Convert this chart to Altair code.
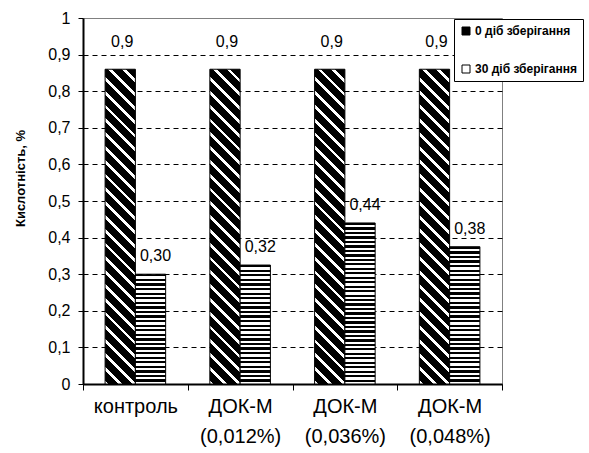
import altair as alt
import pandas as pd

categories = ["контроль", "ДОК-М\n(0,012%)", "ДОК-М\n(0,036%)", "ДОК-М\n(0,048%)"]
series_names = ["0 діб зберігання", "30 діб зберігання"]
values_1 = [0.86, 0.86, 0.86, 0.86]
values_2 = [0.30, 0.325, 0.44, 0.375]
labels_1 = ["0,9", "0,9", "0,9", "0,9"]
labels_2 = ["0,30", "0,32", "0,44", "0,38"]
y_ticks = [0, 0.1, 0.2, 0.3, 0.4, 0.5, 0.6, 0.7, 0.8, 0.9, 1.0]

rows = []
for c, v, l in zip(categories, values_1, labels_1):
    rows.append({"cat": c, "series": series_names[0], "value": v, "label": l})
for c, v, l in zip(categories, values_2, labels_2):
    rows.append({"cat": c, "series": series_names[1], "value": v, "label": l})
df = pd.DataFrame(rows)

# layout (styling)
W_PLOT, H_PLOT = 419, 366
OFF_PAD = 0.73
band = W_PLOT / len(categories)
bar_w = band / (2 + 2 * OFF_PAD)

def diag_gradient(value, period=14.0, white_frac=0.28):
    H = value * H_PLOT
    r = bar_w / H
    b = (1 + r) / (1 + r * r)
    n = max(1, round((H + bar_w) / period))
    stops = []
    for k in range(n):
        s = k / n
        m = (k + 1 - white_frac) / n
        e = (k + 1) / n
        stops += [{"offset": s, "color": "black"}, {"offset": m, "color": "black"},
                  {"offset": m, "color": "white"}, {"offset": e, "color": "white"}]
    return {"gradient": "linear", "x1": 1, "y1": 0, "x2": 1 - r * b, "y2": b, "stops": stops}

def horiz_gradient(value, period=4.5, black_frac=0.5):
    H = value * H_PLOT
    n = max(1, round(H / period))
    stops = []
    for k in range(n):
        s = k / n
        m = (k + black_frac) / n
        e = (k + 1) / n
        stops += [{"offset": s, "color": "black"}, {"offset": m, "color": "black"},
                  {"offset": m, "color": "white"}, {"offset": e, "color": "white"}]
    return {"gradient": "linear", "x1": 0, "y1": 0, "x2": 0, "y2": 1, "stops": stops}

FONT = "Liberation Sans"

x_enc = alt.X("cat:N", sort=categories,
              scale=alt.Scale(domain=categories, paddingInner=0, paddingOuter=0),
              axis=alt.Axis(title=None, labelAngle=0, tickBand="extent", domainColor="black",
                            domainWidth=2, tickColor="black", tickSize=6, labelFont=FONT,
                            labelFontSize=20, labelColor="black", labelPadding=6,
                            labelLineHeight=30, labelBaseline="top",
                            labelExpr="split(datum.label, '\\n')"))
xoff_enc = alt.XOffset("series:N", scale=alt.Scale(domain=series_names, paddingInner=0,
                                                    paddingOuter=OFF_PAD))
y_enc = alt.Y("value:Q", scale=alt.Scale(domain=[0, 1], nice=False, zero=True),
              axis=alt.Axis(title="Кислотність, %", values=y_ticks, grid=True, gridColor="black",
                            gridDash=[5, 4], gridWidth=1,
                            gridOpacity={"condition": {"test": "datum.value >= 1", "value": 0}, "value": 1},
                            domainColor="black", domainWidth=2, tickColor="black", tickSize=5,
                            labelFont=FONT, labelFontSize=16, labelColor="black", labelPadding=8,
                            labelExpr="replace(format(datum.value, '.1~f'), '.', ',')",
                            titleFont=FONT, titleFontSize=13, titleFontWeight="bold",
                            titleColor="black", titleX=-63, titleY=160, titleBaseline="middle",
                            titleAlign="center"))

base = alt.Chart(df)

layers = []
s1 = base.transform_filter(alt.datum.series == series_names[0])
layers.append(s1.mark_bar(fill=diag_gradient(values_1[0]), stroke="black", strokeWidth=1)
              .encode(x=x_enc, xOffset=xoff_enc, y=y_enc))
for c, v in zip(categories, values_2):
    layer = base.transform_filter(
        (alt.datum.series == series_names[1]) & (alt.datum.cat == c)
    ).mark_bar(fill=horiz_gradient(v), stroke="black", strokeWidth=1).encode(
        x=x_enc, xOffset=xoff_enc, y=y_enc)
    layers.append(layer)

layers.append(s1.mark_text(font=FONT, fontSize=16, color="black", baseline="bottom", dy=-19, dx=2)
              .encode(x=x_enc, xOffset=xoff_enc, y=y_enc, text="label:N"))
layers.append(base.transform_filter(alt.datum.series == series_names[1])
              .mark_text(font=FONT, fontSize=16, color="black", baseline="bottom", dy=-10, dx=5)
              .encode(x=x_enc, xOffset=xoff_enc, y=y_enc, text="label:N"))

legend_layer = base.mark_square(size=0).encode(
    x=x_enc, xOffset=xoff_enc, y=y_enc,
    fill=alt.Fill("series:N", scale=alt.Scale(domain=series_names, range=["black", "white"]),
                  legend=alt.Legend(title=None, orient="none", legendX=371, legendY=1,
                                    fillColor="white", strokeColor="black", padding=6,
                                    rowPadding=26, symbolType="square", symbolSize=64,
                                    symbolStrokeColor="black", symbolStrokeWidth=1,
                                    symbolOpacity=1, labelFont=FONT, labelFontSize=12,
                                    labelFontWeight="bold", labelColor="black",
                                    labelOffset=3, labelLimit=300))
)
layers.append(legend_layer)

chart = alt.layer(*layers).properties(
    width=W_PLOT, height=H_PLOT,
    autosize=alt.AutoSizeParams(type="none"),
    padding={"left": 83, "top": 18, "right": 87, "bottom": 69},
    background="white",
).configure_view(stroke="#808080", strokeWidth=1)

chart.save("out.html", embed_options={"renderer": "svg", "actions": False})
